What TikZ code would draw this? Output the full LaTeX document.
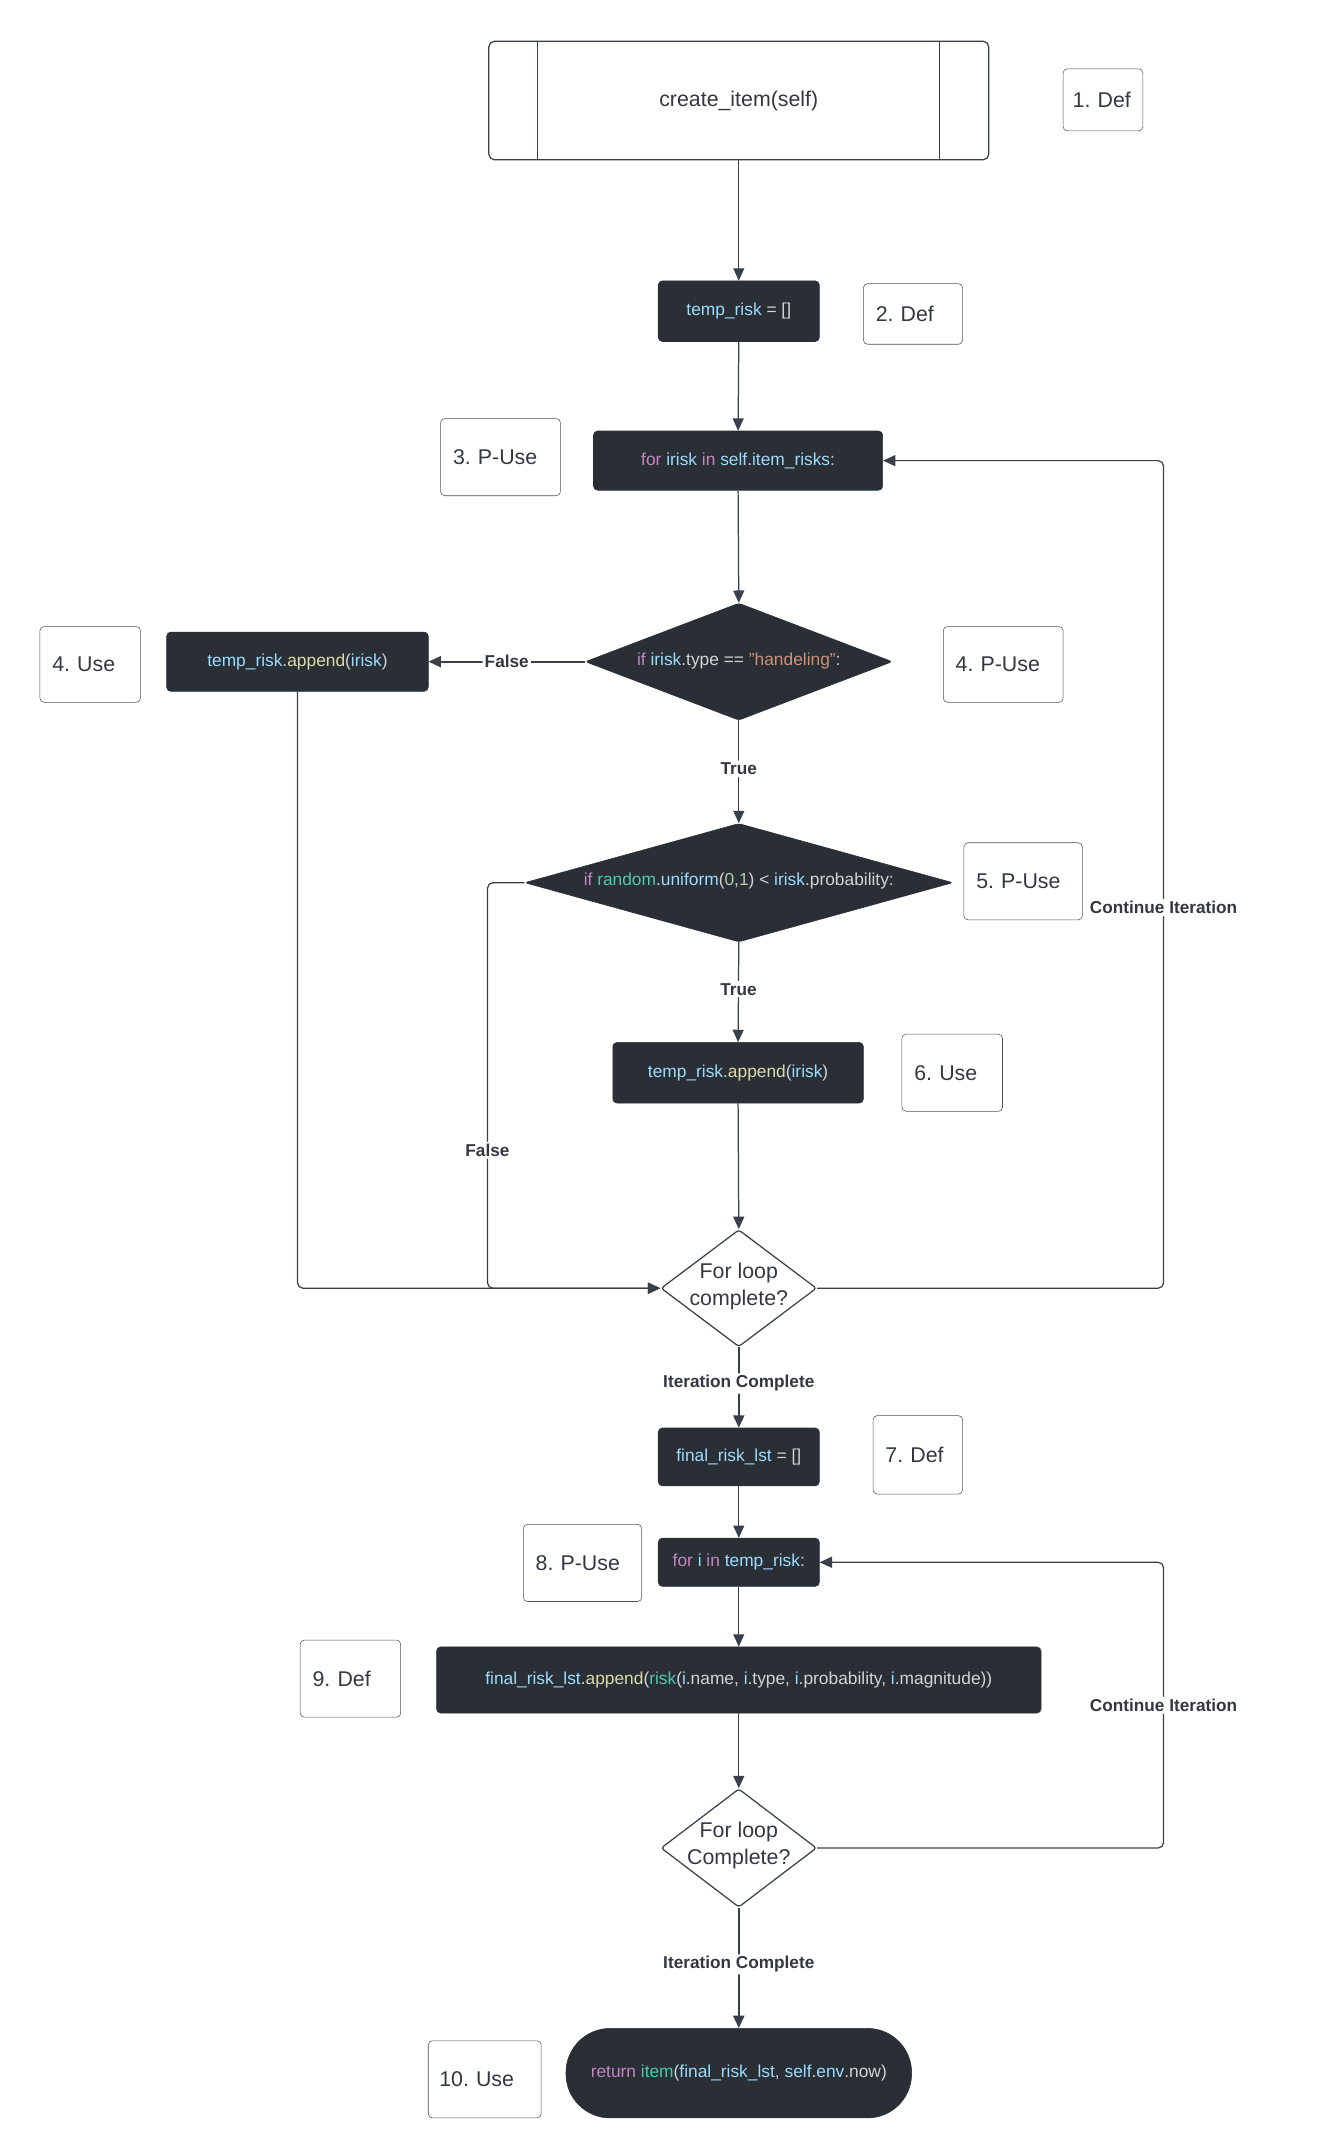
\documentclass[tikz,border=0pt]{standalone}
\usepackage{fontspec}
\setmainfont{Liberation Sans}
\usetikzlibrary{arrows.meta,shapes.geometric}
\frenchspacing
\definecolor{darkbg}{HTML}{2A2E35}
\definecolor{linec}{HTML}{3A404A}
\definecolor{lblc}{HTML}{4E535A}
\definecolor{txtc}{HTML}{333840}
\definecolor{ckw}{HTML}{C586C0}
\definecolor{cvar}{HTML}{9CDCFE}
\definecolor{cfn}{HTML}{DCDCAA}
\definecolor{ccls}{HTML}{4EC9B0}
\definecolor{cstr}{HTML}{CE9178}
\definecolor{cnum}{HTML}{B5CEA8}
\definecolor{cpl}{HTML}{D4D4D4}
\newcommand\CKw[1]{\textcolor{ckw}{#1}}
\newcommand\CVr[1]{\textcolor{cvar}{#1}}
\newcommand\CFn[1]{\textcolor{cfn}{#1}}
\newcommand\CCl[1]{\textcolor{ccls}{#1}}
\newcommand\CSt[1]{\textcolor{cstr}{#1}}
\newcommand\CNm[1]{\textcolor{cnum}{#1}}
\begin{document}
\begin{tikzpicture}[x=1pt,y=-1pt,
  codebox/.style={draw=darkbg, fill=darkbg, rounded corners=3pt, inner sep=0pt,
    font=\fontsize{12.6}{15}\selectfont, text=cpl},
  tagbox/.style={draw=lblc, fill=white, rounded corners=3pt, inner ysep=0pt, inner xsep=9pt,
    align=left, font=\fontsize{15.5}{19}\selectfont, text=txtc},
  darkdia/.style={diamond, draw=darkbg, fill=darkbg, rounded corners=2pt, inner sep=0pt},
  whitedia/.style={diamond, draw=linec, fill=white, line width=0.9pt, rounded corners=2pt, inner sep=0pt},
  codetext/.style={inner sep=0pt, font=\fontsize{12.6}{15}\selectfont, text=cpl},
  diatext/.style={inner sep=0pt, align=center, font=\fontsize{15.5}{19.5}\selectfont, text=txtc},
  conn/.style={draw=linec, line width=0.9pt, rounded corners=4pt, -{Triangle[length=9pt,width=8pt]}},
  thickconn/.style={conn, line width=1.6pt},
  edgelbl/.style={fill=white, inner sep=1.5pt, font=\bfseries\fontsize{12.5}{15}\selectfont, text=txtc}
]
\useasboundingbox (0,0) rectangle (960,1563.5);

% start block
\node[draw=linec, fill=white, line width=0.9pt, rounded corners=4pt, minimum width=363, minimum height=86,
  inner sep=0pt, font=\fontsize{15.5}{19}\selectfont, text=txtc] (top) at (536.5,73) {create\_item(self)};
\draw[draw=linec, line width=0.9pt] (top.north west) ++(36,0) coordinate (tl1) -- (tl1 |- top.south);
\draw[draw=linec, line width=0.9pt] (top.north east) ++(-36,0) coordinate (tr1) -- (tr1 |- top.south);

% tag boxes
\node[tagbox, inner xsep=7pt, text width=44, minimum height=45] (t1) at (801,72.5) {1. Def};
\node[tagbox, text width=54, minimum height=44] (t2) at (663,228) {2. Def};
\node[tagbox, text width=69, minimum height=56] (t3) at (363.5,332) {3. P-Use};
\node[tagbox, text width=55, minimum height=55] (t4u) at (65.5,482.5) {4. Use};
\node[tagbox, text width=69, minimum height=55] (t4p) at (728.5,482.5) {4. P-Use};
\node[tagbox, text width=68, minimum height=56] (t5) at (743,640) {5. P-Use};
\node[tagbox, text width=55, minimum height=56] (t6) at (691.5,779) {6. Use};
\node[tagbox, text width=47, minimum height=57] (t7) at (666.5,1056.5) {7. Def};
\node[tagbox, text width=68, minimum height=56] (t8) at (423,1135) {8. P-Use};
\node[tagbox, text width=55, minimum height=56] (t9) at (254.5,1219) {9. Def};
\node[tagbox, text width=66, minimum height=56, inner xsep=8pt] (t10) at (352,1510) {10. Use};

% code boxes
\node[codebox, minimum width=117, minimum height=44] (temp) at (536.5,226)
  {\CVr{temp\_risk} = []};
\node[codebox, minimum width=210, minimum height=43] (for1) at (536,334.5)
  {\CKw{for} \CVr{irisk} \CKw{in} \CVr{self}.\CVr{item\_risks}:};
\node[codebox, minimum width=190, minimum height=43] (app1) at (216,480.5)
  {\CVr{temp\_risk}.\CFn{append}(\CVr{irisk})};
\node[codebox, minimum width=182, minimum height=44] (app2) at (536,779)
  {\CVr{temp\_risk}.\CFn{append}(\CVr{irisk})};
\node[codebox, minimum width=117, minimum height=42] (final) at (536.5,1058)
  {\CVr{final\_risk\_lst} = []};
\node[codebox, minimum width=117, minimum height=35] (fori) at (536.5,1134.5)
  {\CKw{for} \CVr{i} \CKw{in} \CVr{temp\_risk}:};
\node[codebox, minimum width=439, minimum height=48] (fapp) at (536.5,1220)
  {\CVr{final\_risk\_lst}.\CFn{append}(\CCl{risk}(\CVr{i}.name, \CVr{i}.type, \CVr{i}.probability, \CVr{i}.magnitude))};
\node[codebox, rounded corners=32pt, minimum width=251, minimum height=65] (pill) at (536.5,1505.5)
  {\CKw{return} \CCl{item}(\CVr{final\_risk\_lst}, \CVr{self}.\CVr{env}.now)};

% diamonds
\node[darkdia, minimum width=223, minimum height=85] (d1) at (536.5,480.5) {};
\node[codetext] (d1t) at (536.5,480) {\CKw{if} \CVr{irisk}.type == \CSt{"handeling"}:};
\node[darkdia, minimum width=311, minimum height=86] (d2) at (536.5,641) {};
\node[codetext] (d2t) at (536.5,640) {\CKw{if} \CCl{random}.\CVr{uniform}(\CNm{0},\CNm{1}) < \CVr{irisk}.probability:};
\node[whitedia, minimum width=113, minimum height=85] (l1) at (536.5,935.5) {};
\node[diatext] (l1t) at (536.5,934) {For loop\\complete?};
\node[whitedia, minimum width=113, minimum height=86] (l2) at (536.5,1342) {};
\node[diatext] (l2t) at (536.5,1340) {For loop\\Complete?};

% connectors
\draw[conn] (top.south) -- (temp.north);
\draw[conn] (temp.south) -- (for1.north);
\draw[conn] (for1.south) -- (d1.north);
\draw[thickconn] (d1.west) -- node[edgelbl] (lf1) {False} (app1.east);
\draw[conn] (d1.south) -- node[edgelbl, pos=0.47] (lt1) {True} (d2.north);
\draw[conn] (d2.south) -- node[edgelbl, pos=0.47] (lt2) {True} (app2.north);
\coordinate (f2) at (354,641);
\draw[conn] (d2.west) -- (f2) -- node[edgelbl, pos=0.66] (lf2) {False} (f2 |- l1.west) -- (l1.west);
\draw[conn] (app1.south) |- (l1.west);
\draw[conn] (app2.south) -- (l1.north);
\coordinate (c1) at (845,935.5);
\draw[conn] (l1.east) -- (c1) -- node[edgelbl, pos=0.46] (lc1) {Continue Iteration} (c1 |- for1.east) -- (for1.east);
\draw[thickconn] (l1.south) -- node[edgelbl, pos=0.45] (li1) {Iteration Complete} (final.north);
\draw[conn] (final.south) -- (fori.north);
\draw[conn] (fori.south) -- (fapp.north);
\draw[conn] (fapp.south) -- (l2.north);
\coordinate (c2) at (845,1342);
\draw[conn] (l2.east) -- (c2) -- node[edgelbl, pos=0.5] (lc2) {Continue Iteration} (c2 |- fori.east) -- (fori.east);
\draw[thickconn] (l2.south) -- node[edgelbl, pos=0.47] (li2) {Iteration Complete} (pill.north);
\end{tikzpicture}
\end{document}
